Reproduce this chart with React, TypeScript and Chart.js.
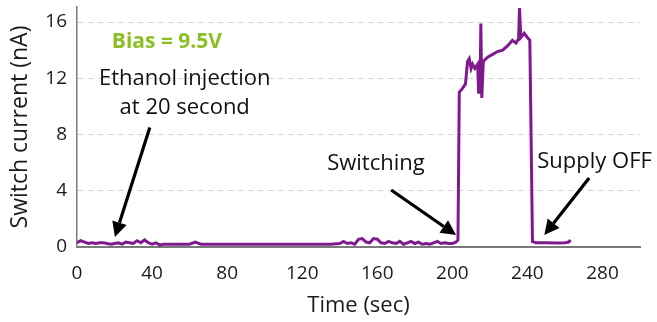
import React, { useEffect, useRef } from "react";
import { Chart, registerables } from "chart.js";

Chart.register(...registerables);

// Time (sec) and switch current (nA)
const timeSec = [
  0, 2, 4, 6, 8, 10, 12, 14, 16, 18, 20, 22, 24, 26, 28, 30, 32, 34, 36, 38, 40, 42, 44, 46,
  50, 60, 63, 66, 80, 90, 100, 120, 135, 140, 142, 144, 146, 148, 150, 152, 154, 156, 158, 160,
  162, 164, 166, 168, 170, 172, 174, 176, 178, 180, 182, 184, 186, 188, 190, 192, 194, 196, 198,
  200, 202, 203, 203.7, 205.5, 207, 208.1, 209, 210, 210.8, 212, 213.5, 214, 214.7, 215.2, 215.7,
  216.5, 218.8, 221.5, 224, 226.8, 229.4, 232, 233.9, 235.3, 235.8, 236.5, 238.3, 240, 241.3,
  242.7, 244.5, 250, 256, 260, 262, 263,
];
const currentNA = [
  0.3, 0.45, 0.35, 0.25, 0.3, 0.25, 0.3, 0.3, 0.25, 0.2, 0.25, 0.3, 0.2, 0.35, 0.3, 0.25, 0.45, 0.3, 0.5, 0.3, 0.2, 0.3, 0.15, 0.2,
  0.2, 0.2, 0.35, 0.2, 0.2, 0.2, 0.2, 0.2, 0.2, 0.25, 0.4, 0.25, 0.3, 0.2, 0.55, 0.6, 0.35, 0.3, 0.6, 0.55,
  0.3, 0.25, 0.4, 0.3, 0.25, 0.4, 0.2, 0.3, 0.4, 0.25, 0.35, 0.2, 0.25, 0.2, 0.3, 0.4, 0.25, 0.3, 0.25,
  0.25, 0.35, 0.5, 11.0, 11.3, 11.6, 13.2, 13.4, 12.7, 13.0, 12.7, 13.0, 11.0, 11.0, 15.9, 10.6,
  13.2, 13.5, 13.7, 13.9, 14.0, 14.3, 14.7, 14.5, 14.8, 17.0, 14.9, 15.2, 14.9, 14.7,
  0.4, 0.3, 0.3, 0.28, 0.3, 0.35, 0.5,
];

const xTickValues = [0, 40, 80, 120, 160, 200, 240, 280];
const yTickValues = [0, 4, 8, 12, 16];
const xMax = 300;
const yMax = 17.07;

// Annotations in data coordinates
const labels = [
  { text: "Bias = 9.5V", x: 47.9, y: 14.6, color: "#8cbf26", bold: true },
  { text: "Ethanol injection", x: 57.4, y: 11.95, color: "#111111", bold: false },
  { text: "at 20 second", x: 57.4, y: 9.9, color: "#111111", bold: false },
  { text: "Switching", x: 159.3, y: 5.9, color: "#111111", bold: false },
  { text: "Supply OFF", x: 275.8, y: 6.05, color: "#111111", bold: false },
];
const arrows = [
  { x0: 38.8, y0: 8.5, x1: 20.2, y1: 0.71 },
  { x0: 167.4, y0: 4.05, x1: 202, y1: 0.85 },
  { x0: 272.9, y0: 4.9, x1: 249, y1: 0.85 },
];

const FONT = "'Open Sans', sans-serif";

const annotationPlugin = {
  id: "annots",
  afterDraw(chart: any) {
    const { ctx, scales } = chart;
    const xs = scales.x;
    const ys = scales.y;
    ctx.save();
    ctx.textAlign = "center";
    ctx.textBaseline = "middle";
    for (const l of labels) {
      ctx.font = `${l.bold ? "bold " : ""}${l.bold ? 21 : 22}px ${FONT}`;
      ctx.fillStyle = l.color;
      ctx.fillText(l.text, xs.getPixelForValue(l.x), ys.getPixelForValue(l.y));
    }
    for (const a of arrows) {
      const px0 = xs.getPixelForValue(a.x0);
      const py0 = ys.getPixelForValue(a.y0);
      const px1 = xs.getPixelForValue(a.x1);
      const py1 = ys.getPixelForValue(a.y1);
      const ang = Math.atan2(py1 - py0, px1 - px0);
      const headLen = 15;
      const headW = 7.5;
      const bx = px1 - headLen * Math.cos(ang);
      const by = py1 - headLen * Math.sin(ang);
      ctx.strokeStyle = "#000";
      ctx.lineWidth = 3.2;
      ctx.beginPath();
      ctx.moveTo(px0, py0);
      ctx.lineTo(bx, by);
      ctx.stroke();
      ctx.fillStyle = "#000";
      ctx.beginPath();
      ctx.moveTo(px1, py1);
      ctx.lineTo(bx + headW * Math.sin(ang), by - headW * Math.cos(ang));
      ctx.lineTo(bx - headW * Math.sin(ang), by + headW * Math.cos(ang));
      ctx.closePath();
      ctx.fill();
    }
    ctx.restore();
  },
};

export default function App() {
  const ref = useRef<HTMLCanvasElement>(null);
  useEffect(() => {
    document.body.style.margin = "0";
    const chart = new Chart(ref.current!, {
      type: "line",
      data: {
        datasets: [
          {
            data: timeSec.map((t, i) => ({ x: t, y: currentNA[i] })),
            borderColor: "#7f1a8e",
            borderWidth: 3,
            pointRadius: 0,
            tension: 0,
            fill: false,
          },
        ],
      },
      options: {
        animation: false,
        responsive: false,
        layout: { padding: { top: 7, right: 17, left: 0, bottom: 0 } },
        plugins: { legend: { display: false }, tooltip: { enabled: false } },
        scales: {
          x: {
            type: "linear",
            min: 0,
            max: xMax,
            afterFit: (s: any) => {
              s.height = 75;
              s.paddingLeft = 0;
              s.paddingRight = 0;
            },
            afterBuildTicks: (s: any) => {
              s.ticks = xTickValues.map((v) => ({ value: v }));
            },
            ticks: {
              padding: 15,
              color: "#1a1a1a",
              font: { family: FONT, size: 19 },
              maxRotation: 0,
              autoSkip: false,
            },
            grid: { display: false, drawTicks: false },
            border: { display: true, color: "#7a7a7a", width: 2 },
            title: {
              display: true,
              text: "Time (sec)",
              color: "#1a1a1a",
              font: { family: FONT, size: 22 },
              padding: { top: 0, bottom: 3 },
            },
          },
          y: {
            type: "linear",
            min: 0,
            max: yMax,
            afterFit: (s: any) => {
              s.width = 77;
              s.paddingTop = 0;
              s.paddingBottom = 0;
            },
            afterBuildTicks: (s: any) => {
              s.ticks = yTickValues.map((v) => ({ value: v }));
            },
            ticks: {
              padding: 10,
              color: "#1a1a1a",
              font: { family: FONT, size: 19 },
              autoSkip: false,
            },
            grid: {
              drawTicks: false,
              color: (c: any) => (c.tick && c.tick.value === 0 ? "rgba(0,0,0,0)" : "#d4d4d4"),
              lineWidth: 1,
            },
            border: { display: true, color: "#7a7a7a", width: 1.5, dash: [6, 4] },
            title: {
              display: true,
              text: "Switch current (nA)",
              color: "#1a1a1a",
              font: { family: FONT, size: 23 },
              padding: { top: 7, bottom: 0 },
            },
          },
        },
      },
      plugins: [annotationPlugin],
    });
    return () => chart.destroy();
  }, []);
  return (
    <div style={{ position: "absolute", left: 0, top: 0, width: 657, height: 322 }}>
      <canvas ref={ref} width={657} height={322} />
    </div>
  );
}
